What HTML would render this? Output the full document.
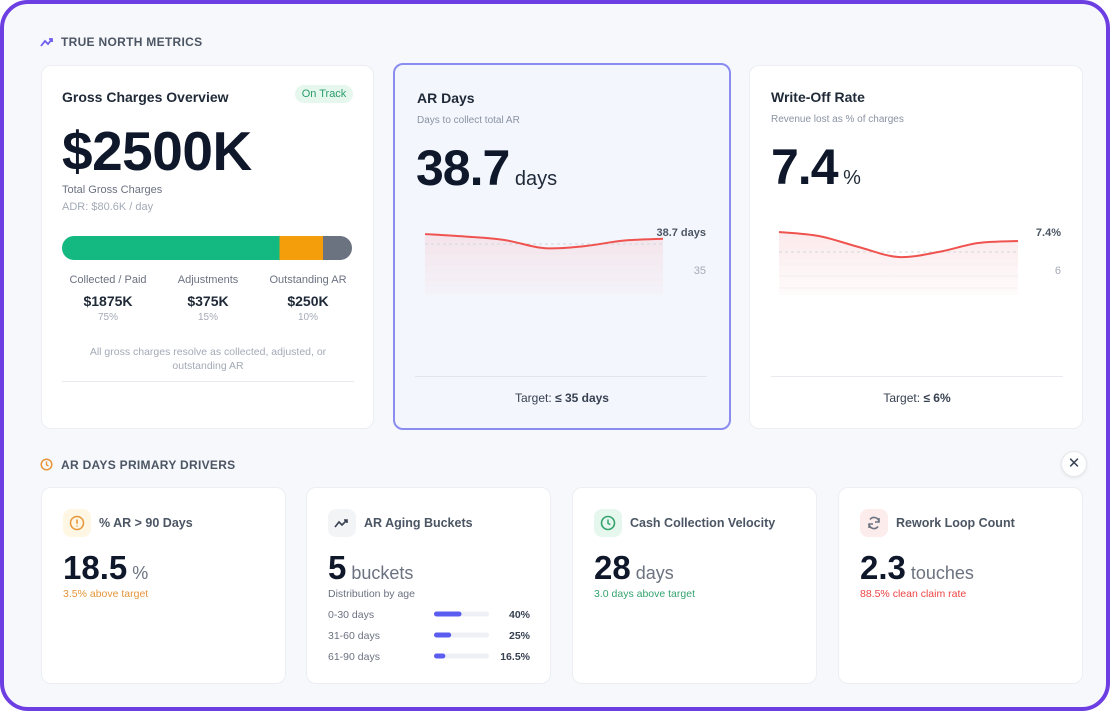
<!DOCTYPE html>
<html><head><meta charset="utf-8">
<style>
*{box-sizing:border-box;margin:0;padding:0}
body{width:1110px;height:711px;background:#fff;font-family:"Liberation Sans",sans-serif;position:relative;overflow:hidden;color:#111827}
.frame{position:absolute;left:0;top:0;width:1110px;height:711px;border:4px solid #6d3fe3;border-radius:28px;background:#f7f8fb}
.abs{position:absolute}
.sec{font-size:12px;font-weight:bold;color:#4b5563;letter-spacing:.3px}
.card{position:absolute;background:#fff;border:1px solid #eceef3;border-radius:10px}
.t14{font-size:14px;font-weight:bold;color:#1f2937}
.sub{font-size:10px;color:#8a93a3}
.big{font-weight:bold;color:#0f172a}
.c{text-align:center}
.ico{position:absolute;width:28px;height:28px;border-radius:8px;display:flex;align-items:center;justify-content:center}
.bt{position:absolute;font-size:12.5px;font-weight:bold;color:#4b5563}
</style></head><body>
<div class="frame"></div>

<svg class="abs" style="left:40px;top:36px" width="14" height="12"><path d="M1 10 L5 5 L8 8 L12 3 M9 3 H12 V6" fill="none" stroke="#6d5df0" stroke-width="1.8"/></svg>
<div class="abs sec" style="left:61px;top:35px">TRUE NORTH METRICS</div>

<!-- Card 1 -->
<div class="card" style="left:41px;top:65px;width:333px;height:364px">
  <div class="abs t14" style="left:20px;top:23px">Gross Charges Overview</div>
  <div class="abs" style="left:253px;top:19px;width:58px;height:18px;border-radius:9px;background:#e6f7ee;color:#2a9d6a;font-size:11px;line-height:18px;text-align:center">On Track</div>
  <div class="abs big" style="left:20px;top:53px;font-size:55px;letter-spacing:-0.5px">$2500K</div>
  <div class="abs" style="left:20px;top:118px;font-size:11px;color:#6b7280">Total Gross Charges</div>
  <div class="abs" style="left:20px;top:135px;font-size:11px;color:#a3aab6">ADR: $80.6K / day</div>
  <svg class="abs" style="left:20px;top:170px" width="292" height="25" id="stackbar"></svg>
  <div class="abs c" style="left:6px;top:208px;width:120px;font-size:11px;color:#6b7280">Collected / Paid</div>
  <div class="abs c" style="left:106px;top:208px;width:120px;font-size:11px;color:#6b7280">Adjustments</div>
  <div class="abs c" style="left:206px;top:208px;width:120px;font-size:11px;color:#6b7280">Outstanding AR</div>
  <div class="abs c" style="left:6px;top:227px;width:120px;font-size:14px;font-weight:bold;color:#1f2937">$1875K</div>
  <div class="abs c" style="left:106px;top:227px;width:120px;font-size:14px;font-weight:bold;color:#1f2937">$375K</div>
  <div class="abs c" style="left:206px;top:227px;width:120px;font-size:14px;font-weight:bold;color:#1f2937">$250K</div>
  <div class="abs c" style="left:6px;top:246px;width:120px;font-size:10px;color:#a3aab6">75%</div>
  <div class="abs c" style="left:106px;top:246px;width:120px;font-size:10px;color:#a3aab6">15%</div>
  <div class="abs c" style="left:206px;top:246px;width:120px;font-size:10px;color:#a3aab6">10%</div>
  <div class="abs c" style="left:20px;top:279px;width:292px;font-size:10.5px;line-height:14px;color:#a3aab6">All gross charges resolve as collected, adjusted, or<br>outstanding AR</div>
  <div class="abs" style="left:20px;top:315px;width:292px;height:1px;background:#e8eaef"></div>
</div>

<!-- Card 2 -->
<div class="card" style="left:393px;top:63px;width:338px;height:367px;background:#f4f6fd;border:2px solid #8b8cf0">
  <div class="abs t14" style="left:22px;top:25px">AR Days</div>
  <div class="abs sub" style="left:22px;top:50px">Days to collect total AR</div>
  <div class="abs big" style="left:21px;top:74px;font-size:50px;letter-spacing:-1px">38.7<span style="font-size:20px;font-weight:normal;color:#1f2937;letter-spacing:0"> days</span></div>
  <div class="abs" style="left:20px;top:311px;width:292px;height:1px;background:#e2e5ec"></div>
  <div class="abs c" style="left:0;top:326px;width:334px;font-size:12px;color:#374151">Target: <b>≤ 35 days</b></div>
</div>

<!-- Card 3 -->
<div class="card" style="left:749px;top:65px;width:334px;height:364px">
  <div class="abs t14" style="left:21px;top:23px">Write-Off Rate</div>
  <div class="abs sub" style="left:21px;top:48px">Revenue lost as % of charges</div>
  <div class="abs big" style="left:21px;top:72px;font-size:50px;letter-spacing:-1px">7.4<span style="font-size:20px;font-weight:normal;color:#1f2937;letter-spacing:0"> %</span></div>
  <div class="abs" style="left:21px;top:310px;width:292px;height:1px;background:#e8eaef"></div>
  <div class="abs c" style="left:0;top:325px;width:334px;font-size:12px;color:#374151">Target: <b>≤ 6%</b></div>
</div>
<svg class="abs" style="left:0;top:0;pointer-events:none" width="1110" height="711" id="spark"></svg>

<!-- Section 2 -->
<svg class="abs" style="left:40px;top:458px" width="13" height="13"><circle cx="6.5" cy="6.5" r="5.3" fill="none" stroke="#e6953a" stroke-width="1.5"/><path d="M6.5 3.5 V6.8 L8.5 8" fill="none" stroke="#e6953a" stroke-width="1.4"/></svg>
<div class="abs sec" style="left:61px;top:458px">AR DAYS PRIMARY DRIVERS</div>
<div class="abs" style="left:1061px;top:451px;width:26px;height:26px;border-radius:13px;background:#fff;border:1px solid #e5e7eb;box-shadow:0 1px 3px rgba(0,0,0,.08);text-align:center;line-height:24px;font-size:15px;color:#374151">✕</div>

<div class="card" style="left:41px;top:487px;width:245px;height:197px">
  <div class="ico" style="left:21px;top:21px;background:#fff7e3"><svg width="16" height="16"><circle cx="8" cy="8" r="6.5" fill="none" stroke="#e6953a" stroke-width="1.5"/><path d="M8 4.5 V8.7 M8 10.5 V11.5" stroke="#e6953a" stroke-width="1.6"/></svg></div>
  <div class="bt" style="left:57px;top:28px">% AR &gt; 90 Days</div>
  <div class="abs big" style="left:21px;top:61px;font-size:33px">18.5<span style="font-size:18px;font-weight:normal;color:#6b7280"> %</span></div>
  <div class="abs" style="left:21px;top:100px;font-size:10.5px;color:#e6953a">3.5% above target</div>
</div>

<div class="card" style="left:306px;top:487px;width:245px;height:197px">
  <div class="ico" style="left:21px;top:21px;background:#f3f4f6"><svg width="16" height="12"><path d="M1 10 L5 5 L8 8 L13 3 M10 3 H13 V6" fill="none" stroke="#374151" stroke-width="1.6"/></svg></div>
  <div class="bt" style="left:57px;top:28px">AR Aging Buckets</div>
  <div class="abs big" style="left:21px;top:61px;font-size:33px">5<span style="font-size:18px;font-weight:normal;color:#6b7280"> buckets</span></div>
  <div class="abs" style="left:21px;top:100px;font-size:10.5px;color:#6b7280">Distribution by age</div>
  <svg class="abs" style="left:0;top:115px" width="245" height="70" id="buckets"></svg>
</div>

<div class="card" style="left:572px;top:487px;width:245px;height:197px">
  <div class="ico" style="left:21px;top:21px;background:#e6f7ee"><svg width="16" height="16"><circle cx="8" cy="8" r="6.5" fill="none" stroke="#34a36f" stroke-width="1.6"/><path d="M8 4.5 V8.3 L10.3 9.6" fill="none" stroke="#34a36f" stroke-width="1.5"/></svg></div>
  <div class="bt" style="left:57px;top:28px">Cash Collection Velocity</div>
  <div class="abs big" style="left:21px;top:61px;font-size:33px">28<span style="font-size:18px;font-weight:normal;color:#6b7280"> days</span></div>
  <div class="abs" style="left:21px;top:100px;font-size:10.5px;color:#34a36f">3.0 days above target</div>
</div>

<div class="card" style="left:838px;top:487px;width:245px;height:197px">
  <div class="ico" style="left:21px;top:21px;background:#fdecec"><svg width="16" height="16"><path d="M13 7 A5 5 0 0 0 4 4.5 M3 9 A5 5 0 0 0 12 11.5" fill="none" stroke="#6b7280" stroke-width="1.6"/><path d="M13 3 V7 H9 M3 13 V9 H7" fill="none" stroke="#6b7280" stroke-width="1.5"/></svg></div>
  <div class="bt" style="left:57px;top:28px">Rework Loop Count</div>
  <div class="abs big" style="left:21px;top:61px;font-size:33px">2.3<span style="font-size:18px;font-weight:normal;color:#6b7280"> touches</span></div>
  <div class="abs" style="left:21px;top:100px;font-size:10.5px;color:#ef4444">88.5% clean claim rate</div>
</div>

<script>
// ---- Data ----
const stackLabels = ["Collected / Paid","Adjustments","Outstanding AR"];
const stackValues = [75, 15, 10];
const stackColors = ["#13b981","#f59e0b","#6b7280"];

const arDays = [40.5, 40.24, 39.87, 39.0, 39.2, 39.8, 40.0];
const arRef = 39.44;
const writeOff = [7.52, 7.36, 6.92, 6.52, 6.72, 7.08, 7.16];
const writeOffRef = 6.72;

const bucketLabels = ["0-30 days","31-60 days","61-90 days"];
const bucketValues = [40, 25, 16.5];
const bucketText = ["40%","25%","16.5%"];

const NS = "http://www.w3.org/2000/svg";
function mk(parent, tag, attrs){const e=document.createElementNS(NS,tag);for(const k in attrs)e.setAttribute(k,attrs[k]);parent.appendChild(e);return e;}

// stacked bar
(function(){
  const svg=document.getElementById('stackbar');
  const W=290,H=24,total=stackValues.reduce((a,b)=>a+b,0);
  const x=v=>v/total*W;
  const defs=mk(svg,'defs',{});const cp=mk(defs,'clipPath',{id:'sbclip'});mk(cp,'rect',{x:0,y:0,width:W,height:H,rx:12});
  const g=mk(svg,'g',{'clip-path':'url(#sbclip)'});
  let acc=0;
  stackValues.forEach((v,i)=>{
    const r=mk(g,'rect',{x:x(acc),y:0,width:x(v),height:H,fill:stackColors[i]});
    
    
    acc+=v;
  });
})();

// sparklines
function smooth(pts){
  let d='M'+pts[0][0]+' '+pts[0][1];
  for(let i=0;i<pts.length-1;i++){
    const p0=pts[i-1]||pts[i],p1=pts[i],p2=pts[i+1],p3=pts[i+2]||p2;
    const c1=[p1[0]+(p2[0]-p0[0])/6,p1[1]+(p2[1]-p0[1])/6];
    const c2=[p2[0]-(p3[0]-p1[0])/6,p2[1]-(p3[1]-p1[1])/6];
    d+=` C${c1[0]} ${c1[1]} ${c2[0]} ${c2[1]} ${p2[0]} ${p2[1]}`;
  }
  return d;
}
function spark(id, vals, ref, x0, x1, dom, y0, y1, lab1, lab1y, lab2, lab2y, lx){
  const svg=document.getElementById('spark');
  const g=mk(svg,'g',{});
  
  
  const xs=i=>x0+(x1-x0)*i/(vals.length-1);
  const ys=v=>y0-(v-dom[0])/(dom[1]-dom[0])*(y0-y1);
  const pts=vals.map((v,i)=>[xs(i),ys(v)]);
  const gid=id+'-grad';
  const defs=mk(g,'defs',{});const lg=mk(defs,'linearGradient',{id:gid,x1:0,y1:0,x2:0,y2:1});
  mk(lg,'stop',{offset:0,'stop-color':'#f3b8be','stop-opacity':0.3});
  mk(lg,'stop',{offset:1,'stop-color':'#f3b8be','stop-opacity':0.05});
  const line=smooth(pts);
  const a=mk(g,'path',{d:line+` L${x1} ${y0} L${x0} ${y0} Z`,fill:`url(#${gid})`});
  
  
  for(let k=1;k<4;k++)mk(g,'line',{x1:x0,x2:x1,y1:ys(ref)+k*12,y2:ys(ref)+k*12,stroke:'#f5eef0','stroke-width':1});
  const r=mk(g,'line',{x1:x0,x2:x1,y1:ys(ref),y2:ys(ref),stroke:'#d5d7de','stroke-dasharray':'3 3','stroke-width':1});
  
  
  const l=mk(g,'path',{d:line,fill:'none',stroke:'#ef5350','stroke-width':2});
  
  
  const t1=mk(g,'text',{x:lx,y:lab1y,'text-anchor':'end','font-size':11,'font-weight':'bold',fill:'#4b5563','font-family':'Liberation Sans, sans-serif'});t1.textContent=lab1;
  
  
  const t2=mk(g,'text',{x:lx,y:lab2y,'text-anchor':'end','font-size':11,fill:'#a3aab6','font-family':'Liberation Sans, sans-serif'});t2.textContent=lab2;
  
  
}
spark('ar-days-sparkline', arDays, arRef, 425, 663, [34,42], 295, 220, '38.7 days', 236, '35', 274, 706);
spark('write-off-sparkline', writeOff, writeOffRef, 779, 1018, [5,8], 295, 220, '7.4%', 236, '6', 274, 1061);

// buckets
(function(){
  const svg=document.getElementById('buckets');
  const bx=127,bw=55,max=100;
  const x=v=>v/max*bw*1.25;
  bucketValues.forEach((v,i)=>{
    const y=11+i*21;
    const t=mk(svg,'text',{x:21,y:y+4,'font-size':10.5,fill:'#6b7280','font-family':'Liberation Sans, sans-serif'});t.textContent=bucketLabels[i];
    
    
    mk(svg,'rect',{x:bx,y:y-2.5,width:bw,height:5,rx:2.5,fill:'#eef0f5'});
    const b=mk(svg,'rect',{x:bx,y:y-2.5,width:x(v),height:5,rx:2.5,fill:'#5b5cf0'});
    
    
    const p=mk(svg,'text',{x:223,y:y+4,'text-anchor':'end','font-size':10.5,'font-weight':'bold',fill:'#374151','font-family':'Liberation Sans, sans-serif'});p.textContent=bucketText[i];
    
    
  });
})();
</script>
</body></html>
